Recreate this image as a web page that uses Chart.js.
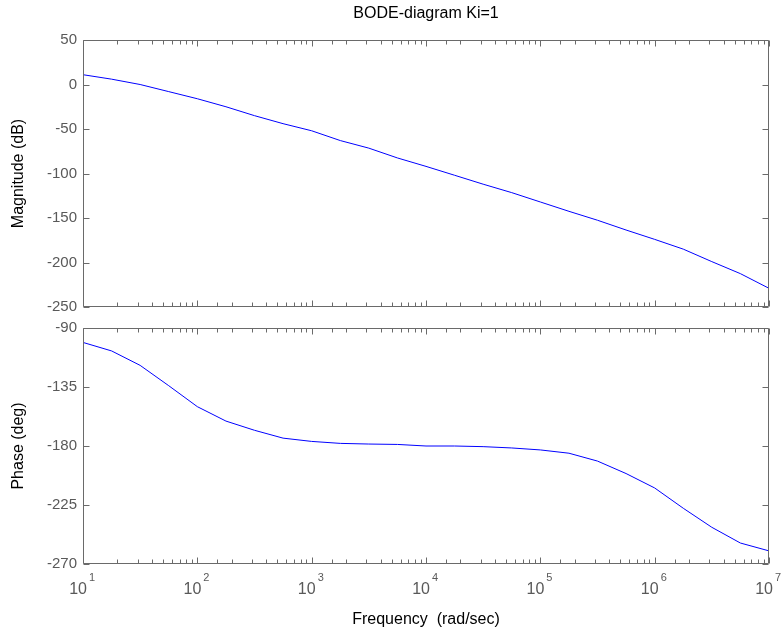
<!DOCTYPE html>
<html>
<head>
<meta charset="utf-8">
<title>BODE-diagram Ki=1</title>
<script src="https://cdn.jsdelivr.net/npm/chart.js@4.4.0/dist/chart.umd.min.js"></script>
<style>
    html, body { margin: 0; padding: 0; background: #fff; }
    #wrap { position: relative; width: 783px; height: 630px; }
    .pane { position: absolute; left: 0; width: 783px; height: 315px; }
    #magPane { top: 0; }
    #phasePane { top: 315px; }
</style>
</head>
<body>
<div id="wrap">
    <div class="pane" id="magPane"><canvas id="mag"></canvas></div>
    <div class="pane" id="phasePane"><canvas id="phase"></canvas></div>
</div>
<script>
// Bode plot, two stacked panels sharing a log frequency axis.

// ---- Data ----

const freq = [
    10, 17.8, 31.6, 56.2,
    100, 178, 316, 562,
    1000, 1780, 3160, 5620,
    1e4, 1.78e4, 3.16e4, 5.62e4,
    1e5, 1.78e5, 3.16e5, 5.62e5,
    1e6, 1.78e6, 3.16e6, 5.62e6,
    1e7,
];
const magnitudeDb = [
    11, 6, 0, -8,
    -16, -25, -35, -44,
    -52, -63, -71.5, -82.5,
    -92, -102, -112, -121.5,
    -132, -142.5, -152.5, -163.5,
    -174, -185, -199, -212.5,
    -229,
];
const phaseDeg = [
    -101, -107.5, -118.5, -134,
    -150, -161, -168, -174,
    -176.5, -178, -178.5, -178.8,
    -180, -180, -180.5, -181.5,
    -183, -185.5, -191.5, -201,
    -212, -227.5, -242, -254,
    -260,
];
const xRange = [10, 1e7];
const magTicks = { min: -250, max: 50, step: 50 };
const phaseTicks = { min: -270, max: -90, step: 45 };

// ---- Look ----

const FONT = "'Liberation Sans', Arial, sans-serif";
const AXIS_COLOUR = '#6a6a6a';
const LABEL_COLOUR = '#595959';
const LINE_COLOUR = '#0000ff';

Chart.defaults.font.family = FONT;
Chart.defaults.animation = false;

function isDecade(v) {
    const l = Math.log10(v);
    return Math.abs(l - Math.round(l)) < 1e-9;
}

// MATLAB-style box with inward tick marks on all four sides.
const boxTicks = {
    id: 'boxTicks',
    afterDraw(chart) {
        const { ctx, chartArea: a, scales: { x, y } } = chart;
        const L = Math.round(a.left) + 0.5;
        const R = Math.round(a.right) - 0.5;
        const T = Math.round(a.top) + 0.5;
        const B = Math.round(a.bottom) - 0.5;
        ctx.save();
        ctx.strokeStyle = AXIS_COLOUR;
        ctx.lineWidth = 1;
        ctx.beginPath();
        ctx.rect(L, T, R - L, B - T);
        for (const t of x.ticks) {
            const px = Math.round(x.getPixelForValue(t.value)) + 0.5;
            const len = isDecade(t.value) ? 6 : 4;
            ctx.moveTo(px, T);
            ctx.lineTo(px, T + len);
            ctx.moveTo(px, B);
            ctx.lineTo(px, B - len);
        }
        for (const t of y.ticks) {
            const py = Math.round(y.getPixelForValue(t.value)) + 0.5;
            ctx.moveTo(L, py);
            ctx.lineTo(L + 6, py);
            ctx.moveTo(R, py);
            ctx.lineTo(R - 6, py);
        }
        ctx.stroke();
        ctx.restore();
    },
};

// "10" with a raised exponent under each decade tick.
const decadeLabels = {
    id: 'decadeLabels',
    afterDraw(chart) {
        const { ctx, chartArea: a, scales: { x } } = chart;
        ctx.save();
        ctx.fillStyle = LABEL_COLOUR;
        ctx.textBaseline = 'middle';
        for (const t of x.ticks) {
            if (!isDecade(t.value)) continue;
            const px = x.getPixelForValue(t.value);
            ctx.font = `16px ${FONT}`;
            ctx.textAlign = 'right';
            ctx.fillText('10', px + 4, a.bottom + 26);
            ctx.font = `11px ${FONT}`;
            ctx.textAlign = 'left';
            ctx.fillText(String(Math.round(Math.log10(t.value))), px + 6, a.bottom + 14);
        }
        ctx.restore();
    },
};

function series(values) {
    return freq.map((f, i) => ({ x: f, y: values[i] }));
}

function lineDataset(values) {
    return {
        data: series(values),
        borderColor: LINE_COLOUR,
        backgroundColor: 'transparent',
        borderWidth: 1,
        pointRadius: 0,
        tension: 0,
    };
}

function xScale(extra) {
    return Object.assign({
        type: 'logarithmic',
        min: xRange[0],
        max: xRange[1],
        grid: { display: false },
        border: { display: false },
        ticks: { display: false },
    }, extra);
}

function yScale(range, title) {
    return {
        type: 'linear',
        min: range.min,
        max: range.max,
        grid: { display: false, drawTicks: false },
        border: { display: false },
        ticks: {
            stepSize: range.step,
            padding: 6,
            color: LABEL_COLOUR,
            font: { size: 15 },
        },
        title: {
            display: true,
            text: title,
            color: '#000',
            font: { size: 16 },
            padding: { top: 9, bottom: 0 },
        },
        afterFit: (s) => {
            s.width = 83;
            // the layout padding already leaves room for the end labels
            s.paddingTop = 0;
            s.paddingBottom = 0;
        },
    };
}

function noPadX(s, h) {
    s.height = h;
    s.paddingLeft = 0;
    s.paddingRight = 0;
}

// ---- Magnitude panel ----

new Chart(document.getElementById('mag').getContext('2d'), {
    type: 'line',
    data: { datasets: [lineDataset(magnitudeDb)] },
    options: {
        responsive: true,
        maintainAspectRatio: false,
        parsing: false,
        layout: { padding: { left: 0, right: 14, top: 0, bottom: 8 } },
        plugins: {
            legend: { display: false },
            tooltip: { enabled: false },
            title: {
                display: true,
                text: 'BODE-diagram Ki=1',
                color: '#000',
                fullSize: false,
                font: { size: 16, weight: 'normal' },
                padding: { top: 4, bottom: 16.8 },
            },
        },
        scales: {
            x: xScale({ afterFit: (s) => noPadX(s, 0) }),
            y: yScale(magTicks, 'Magnitude (dB)'),
        },
    },
    plugins: [boxTicks],
});

// ---- Phase panel ----

new Chart(document.getElementById('phase').getContext('2d'), {
    type: 'line',
    data: { datasets: [lineDataset(phaseDeg)] },
    options: {
        responsive: true,
        maintainAspectRatio: false,
        parsing: false,
        layout: { padding: { left: 0, right: 14, top: 13, bottom: 0 } },
        plugins: {
            legend: { display: false },
            tooltip: { enabled: false },
        },
        scales: {
            x: xScale({
                title: {
                    display: true,
                    text: 'Frequency  (rad/sec)',
                    color: '#000',
                    font: { size: 16 },
                    padding: { top: 0, bottom: 1 },
                },
                afterFit: (s) => noPadX(s, 66),
            }),
            y: yScale(phaseTicks, 'Phase (deg)'),
        },
    },
    plugins: [boxTicks, decadeLabels],
});
</script>
</body>
</html>
